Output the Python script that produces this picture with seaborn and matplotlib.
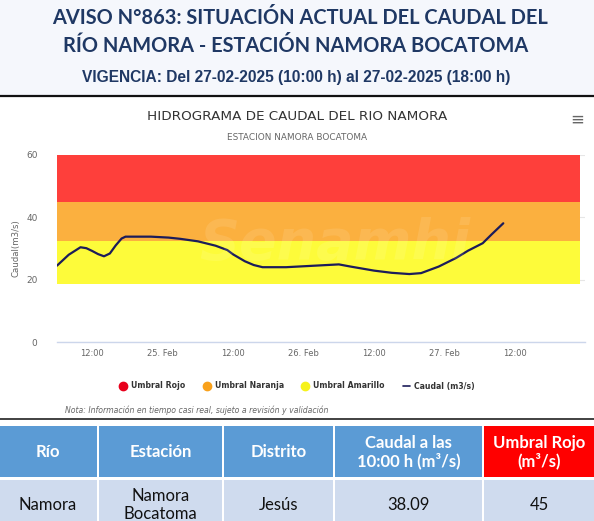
import matplotlib
matplotlib.use("Agg")
import matplotlib.pyplot as plt
import seaborn as sns
import pandas as pd
from matplotlib.lines import Line2D
from matplotlib.patches import Rectangle

# datos del hidrograma
fechas = [
    "2025-02-24 06:00", "2025-02-24 08:00", "2025-02-24 10:00", "2025-02-24 11:00",
    "2025-02-24 12:00", "2025-02-24 13:00", "2025-02-24 14:00", "2025-02-24 15:00",
    "2025-02-24 16:00", "2025-02-24 17:00", "2025-02-24 17:40", "2025-02-24 19:00",
    "2025-02-24 22:00", "2025-02-25 01:00", "2025-02-25 03:00", "2025-02-25 06:00",
    "2025-02-25 09:00", "2025-02-25 11:00", "2025-02-25 12:00", "2025-02-25 14:00",
    "2025-02-25 15:30", "2025-02-25 17:00", "2025-02-25 21:00", "2025-02-25 23:00",
    "2025-02-26 06:00", "2025-02-26 08:00", "2025-02-26 12:00", "2025-02-26 15:00",
    "2025-02-26 18:00", "2025-02-26 20:00", "2025-02-26 23:00", "2025-02-27 02:00",
    "2025-02-27 04:00", "2025-02-27 06:30", "2025-02-27 08:00", "2025-02-27 10:00",
]
caudal = [
    24.5, 28.0, 30.4, 30.1, 29.2, 28.2, 27.5, 28.4, 31.0, 33.2, 33.8, 33.8,
    33.8, 33.5, 33.1, 32.3, 30.9, 29.5, 28.1, 25.9, 24.7, 24.0, 24.0, 24.2,
    24.9, 24.2, 22.9, 22.2, 21.8, 22.1, 24.2, 27.0, 29.3, 31.7, 34.5, 38.09,
]

# umbrales (m3/s)
umbral_nombres = ["Umbral Rojo", "Umbral Naranja", "Umbral Amarillo"]
umbral_inf = [45, 32.4, 18.6]
umbral_sup = [60, 45, 32.4]
umbral_colores = ["#fe3f3b", "#fbb03f", "#fdfb3a"]
marcador_colores = ["#e8001c", "#f9a11b", "#f6f21a"]

# tabla
columnas = ["Río", "Estación", "Distrito", "Caudal a las\n10:00 h (m³/s)", "Umbral Rojo\n(m³/s)"]
fila = ["Namora", "Namora\nBocatoma", "Jesús", "38.09", "45"]

df = pd.DataFrame({"fecha": pd.to_datetime(fechas), "caudal": caudal})

sns.set_theme(style="white")
plt.rcParams["font.family"] = ["DejaVu Sans"]

W, H = 594, 521
fig = plt.figure(figsize=(W / 100, H / 100), dpi=100)
fig.patch.set_facecolor("white")

# franja superior
fig.patches.append(Rectangle((0, 1 - 95 / H), 1, 95 / H, transform=fig.transFigure,
                             facecolor="#f5f7fc", edgecolor="none", zorder=0))
fig.add_artist(Line2D([0, 1], [1 - 95.7 / H] * 2, color="#111111", lw=1.6))
fig.add_artist(Line2D([0, 1], [1 - 419 / H] * 2, color="#333333", lw=1.3))

azul = "#1f3864"
fig.text(300 / W, 1 - 18 / H, "AVISO N°863: SITUACIÓN ACTUAL DEL CAUDAL DEL", ha="center", va="center",
         fontsize=14.4, fontweight="bold", color=azul, family="Lato")
fig.text(296 / W, 1 - 46 / H, "RÍO NAMORA - ESTACIÓN NAMORA BOCATOMA", ha="center", va="center",
         fontsize=14.4, fontweight="bold", color=azul, family="Lato")
fig.text(296 / W, 1 - 78 / H, "VIGENCIA: Del 27-02-2025 (10:00 h) al 27-02-2025 (18:00 h)", ha="center",
         va="center", fontsize=11.2, fontweight="bold", color=azul, family="Liberation Sans")

# grafico
ax = fig.add_axes([57 / W, 1 - 342 / H, (585 - 57) / W, (342 - 155) / H])
for lo, hi, c in zip(umbral_inf, umbral_sup, umbral_colores):
    ax.axhspan(lo, hi, xmin=0, xmax=0.9905, color=c, lw=0, zorder=1)
sns.lineplot(data=df, x="fecha", y="caudal", ax=ax, color="#1c1c5a", lw=1.6, zorder=3)

ax.set_ylim(0, 60)
ax.set_xlim(pd.Timestamp("2025-02-24 06:00"), pd.Timestamp("2025-02-27 23:55"))
ax.set_yticks([0, 20, 40, 60])
ax.yaxis.grid(True, color="#e6e6e6", lw=0.8, zorder=0)
ax.set_axisbelow(True)
for s in ["top", "right", "left"]:
    ax.spines[s].set_visible(False)
ax.spines["bottom"].set_color("#ccd6eb")
ax.spines["bottom"].set_linewidth(1)

ticks = pd.date_range("2025-02-24 12:00", "2025-02-27 12:00", freq="12h")
ax.set_xticks(ticks)
ax.set_xticklabels([f"{t.day}. Feb" if t.hour == 0 else "12:00" for t in ticks])
ax.tick_params(axis="x", colors="#ccd6eb", length=3.6, width=1, direction="out", pad=1.5,
               labelcolor="#666666", labelsize=6)
ax.tick_params(axis="y", length=0, labelcolor="#666666", labelsize=6.5, pad=14)
ax.set_xlabel("")
ax.set_ylabel("Caudal(m3/s)", color="#666666", fontsize=6.2, labelpad=4)

fig.text(297 / W, 1 - 117 / H, "HIDROGRAMA DE CAUDAL DEL RIO NAMORA", ha="center", va="center",
         fontsize=9.7, color="#333333")
fig.text(297 / W, 1 - 138 / H, "ESTACION NAMORA BOCATOMA", ha="center", va="center",
         fontsize=6.4, color="#666666")
fig.text(577 / W, 1 - 120 / H, "≡", ha="center", va="center", fontsize=12, color="#666666")
fig.text(335 / W, 1 - 244 / H, "Senamhi", ha="center", va="center", fontsize=40, fontweight="bold",
         style="italic", color="white", alpha=0.1, zorder=5)

handles = [Line2D([], [], marker="o", ls="", color=c, markersize=6) for c in marcador_colores]
handles.append(Line2D([], [], color="#1c1c5a", lw=1.2))
fig.legend(handles, umbral_nombres + ["Caudal (m3/s)"], loc="center", ncol=4,
           bbox_to_anchor=(297 / W, 1 - 386 / H), frameon=False,
           prop={"size": 5.6, "weight": "bold"},
           handlelength=1.0, handletextpad=0.5, columnspacing=2.3, labelcolor="#333333")
fig.text(65 / W, 1 - 410 / H, "Nota: Información en tiempo casi real, sujeto a revisión y validación",
         ha="left", va="center", fontsize=5.6, style="italic", color="#666666")

# tabla
tx = fig.add_axes([0, 0, 1, (H - 420) / H])
tx.set_xlim(0, W)
tx.set_ylim(H, 420)
tx.axis("off")
bordes = [-2, 98, 223, 334, 483, W + 2]
for i, (txt, val) in enumerate(zip(columnas, fila)):
    x0, x1 = bordes[i], bordes[i + 1]
    fondo = "#ff0000" if i == 4 else "#5b9bd5"
    tx.add_patch(Rectangle((x0 + 1, 426), x1 - x0 - 2, 51, facecolor=fondo, edgecolor="none"))
    tx.add_patch(Rectangle((x0 + 1, 480), x1 - x0 - 2, 50, facecolor="#cfdbee", edgecolor="none"))
    tx.text((x0 + x1) / 2, 452, txt, ha="center", va="center", fontsize=12, fontweight="bold",
            color="white", family="Lato", linespacing=1.1)
    tx.text((x0 + x1) / 2, 505, val, ha="center", va="center", fontsize=12, color="#111111",
            family="Lato", linespacing=1.15)

fig.savefig("out.png", dpi=100, facecolor=fig.get_facecolor())
